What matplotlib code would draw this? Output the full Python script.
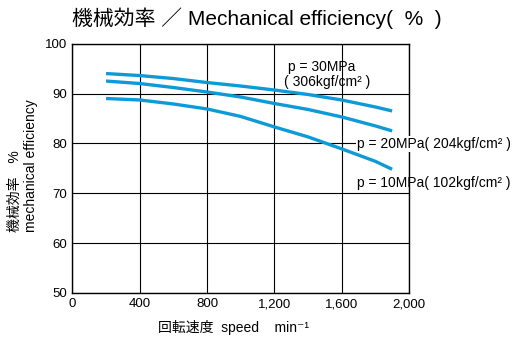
import matplotlib
matplotlib.use("Agg")
import matplotlib.pyplot as plt

plt.rcParams['font.family'] = ['Liberation Sans', 'Noto Sans CJK JP', 'DejaVu Sans']

# speed (min^-1) vs mechanical efficiency (%)
speed = [200, 400, 600, 800, 1000, 1200, 1400, 1600, 1800, 1900]
eff_30mpa = [94.0, 93.6, 93.0, 92.2, 91.5, 90.7, 89.8, 88.7, 87.3, 86.5]
eff_20mpa = [92.5, 92.0, 91.2, 90.3, 89.3, 88.0, 86.8, 85.3, 83.5, 82.5]
eff_10mpa = [89.0, 88.7, 87.9, 86.9, 85.4, 83.3, 81.3, 78.9, 76.4, 74.8]

x_ticks = [0, 400, 800, 1200, 1600, 2000]
x_labels = ["0", "400", "800", "1,200", "1,600", "2,000"]
y_ticks = [50, 60, 70, 80, 90, 100]

blue = "#0e9ad7"

fig = plt.figure(figsize=(5.17, 3.41), dpi=100)
ax = fig.add_axes([0.140, 0.141, 0.651, 0.731])

for eff in (eff_30mpa, eff_20mpa, eff_10mpa):
    ax.plot(speed, eff, color=blue, lw=2.4, solid_capstyle="butt", zorder=3)

ax.set_xlim(0, 2000)
ax.set_ylim(50, 100)
ax.set_xticks(x_ticks)
ax.set_xticklabels(x_labels)
ax.set_yticks(y_ticks)
ax.tick_params(length=0, labelsize=9.5, pad=4)
ax.grid(True, color="black", lw=0.8)
for s in ax.spines.values():
    s.set_linewidth(1.0)

lab = dict(fontsize=10, va="center")
ax.text(1281, 95.3, "p = 30MPa", **lab)
ax.text(1255, 92.3, "( 306kgf/cm² )", **lab)
ax.text(1691, 79.9, "p = 20MPa( 204kgf/cm² )", clip_on=False,
        bbox=dict(facecolor="white", edgecolor="none", pad=0.5), zorder=4, **lab)
ax.text(1691, 72.1, "p = 10MPa( 102kgf/cm² )", clip_on=False, **lab)

fig.text(0.14, 0.947, "機械効率 ／ Mechanical efficiency(  %  )", ha="left",
         va="center", fontsize=15)
fig.text(0.029, 0.32, "機械効率　%", rotation=90, ha="center", va="bottom", fontsize=10)
fig.text(0.060, 0.32, "mechanical efficiency", rotation=90, ha="center", va="bottom",
         fontsize=10)
fig.text(0.306, 0.041, "回転速度  speed    min⁻¹", ha="left", va="center", fontsize=10)

fig.savefig("out.png", dpi=100)
